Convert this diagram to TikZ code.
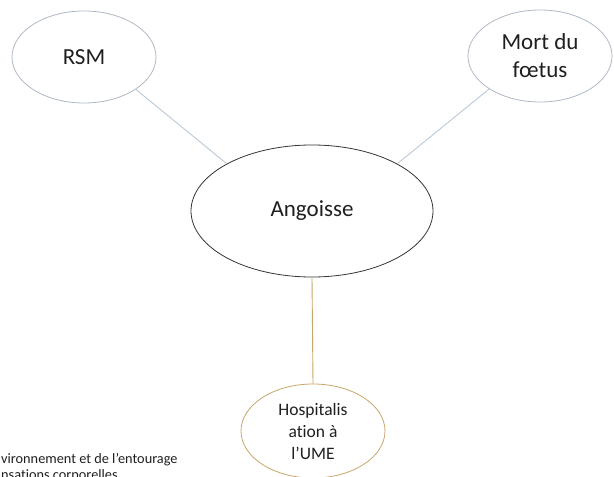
\documentclass[tikz,border=0pt]{standalone}
\usepackage{fontspec}
\setmainfont{Carlito}[Ligatures=NoCommon]
\usetikzlibrary{shapes.geometric,positioning}
\definecolor{angInk}{HTML}{1F1F1F}
\definecolor{angGrey}{HTML}{AEB8C4}
\definecolor{angLink}{HTML}{B9C9D8}
\definecolor{angTan}{HTML}{C8A56A}
\tikzset{
    bubble/.style={ellipse, draw=angGrey, line width=0.8pt, inner sep=0pt, align=center, text=angInk, minimum width=144pt, minimum height=92pt, font=\fontsize{23}{28}\selectfont},
    core/.style={bubble, draw=angInk!90, minimum width=242pt, minimum height=132pt},
    hosp/.style={bubble, draw=angTan, minimum height=94pt, font=\fontsize{17.5}{22}\selectfont},
    link/.style={line width=0.9pt, draw=angLink},
    hosplink/.style={line width=0.9pt, draw=angTan},
    margin/.style={anchor=base west, align=left, inner sep=0pt, text=angInk, font=\fontsize{14.3}{16.5}\selectfont}
}

\begin{document}
\begin{tikzpicture}[x=1pt,y=1pt]
\useasboundingbox (0,0) rectangle (614,477);
\clip (0,0) rectangle (614,477);
\node[core] (ang) at (312,266) {Angoisse};
\node[bubble] (rsm) at (84,420) {RSM};
\node[bubble] (mort) at (540,421) {Mort du\\fœtus};
\node[hosp] (hosp) at (313,46) {Hospitalis\\ation à\\l’UME};
\node[margin] (note) at (1,-3) {vironnement et de l’entourage\\nsations corporelles};
\draw[link] (rsm.-32) -- (ang.151);
\draw[link] (mort.-147) -- (ang.29);
\draw[hosplink] (ang.south) -- (hosp.north);
\end{tikzpicture}
\end{document}
